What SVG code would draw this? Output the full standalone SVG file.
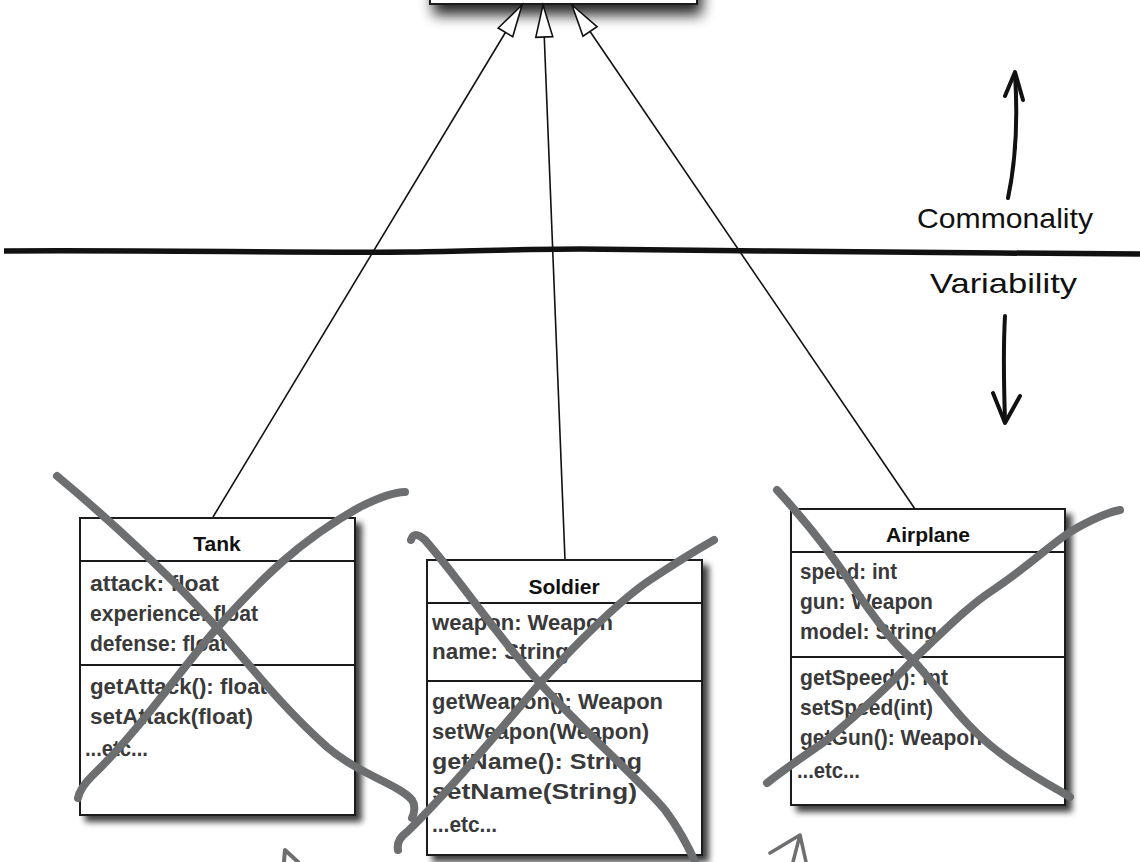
<svg xmlns="http://www.w3.org/2000/svg" width="1140" height="862" viewBox="0 0 1140 862">
<style>
.box{fill:#fff;stroke:#1a1a1a;stroke-width:2}
.sep{stroke:#1a1a1a;stroke-width:2}
.t{font-family:"Liberation Sans",Arial,sans-serif;font-weight:bold;font-size:21px;fill:#111;text-anchor:middle}
.m{font-family:"Liberation Sans",Arial,sans-serif;font-weight:bold;font-size:22px;fill:#3a3a3a}
.h{font-family:"Liberation Sans",Arial,sans-serif;font-size:28px;fill:#111}
.x{fill:none;stroke:#6d6e70;stroke-width:8;stroke-linecap:round;stroke-linejoin:round}
.c{fill:none;stroke:#111;stroke-width:1.6}
.ink{fill:none;stroke:#111;stroke-width:4;stroke-linecap:round;stroke-linejoin:round}
</style>
<defs>
<filter id="sh" x="-10%" y="-10%" width="130%" height="130%">
<feGaussianBlur in="SourceAlpha" stdDeviation="3"/>
<feOffset dx="6" dy="6"/>
<feComponentTransfer><feFuncA type="linear" slope="0.75"/></feComponentTransfer>
<feMerge><feMergeNode/><feMergeNode in="SourceGraphic"/></feMerge>
</filter>
<filter id="shTop" x="-20%" y="-50%" width="140%" height="250%">
<feGaussianBlur in="SourceAlpha" stdDeviation="7"/>
<feOffset dx="4" dy="10"/>
<feComponentTransfer><feFuncA type="linear" slope="0.85"/></feComponentTransfer>
<feMerge><feMergeNode/><feMergeNode in="SourceGraphic"/></feMerge>
</filter>
<marker id="tri" markerUnits="userSpaceOnUse" markerWidth="40" markerHeight="24" viewBox="-36 -12 40 24" refX="0" refY="0" orient="auto">
<path d="M0,0 L-32,-8.5 L-32,8.5 Z" fill="#fff" stroke="#111" stroke-width="1.6" stroke-linejoin="miter"/>
</marker>
</defs>
<rect width="1140" height="862" fill="#fff"/>

<g id="node-base">
<rect class="box" x="430" y="-30" width="267" height="34" filter="url(#shTop)"/>
</g>

<g id="divider">
<path d="M4,251 C150,250 300,253 410,252 C480,251 520,249 580,249 C700,250 900,253 1000,253 C1060,253 1100,254 1140,254" fill="none" stroke="#111" stroke-width="5.5"/>
</g>

<g id="connectors">
<line class="c" x1="213" y1="517" x2="522" y2="5" marker-end="url(#tri)"/>
<line class="c" x1="565" y1="560" x2="543" y2="5" marker-end="url(#tri)"/>
<line class="c" x1="915" y1="509" x2="572" y2="5" marker-end="url(#tri)"/>
</g>

<g id="node-tank">
<rect class="box" x="80" y="518" width="275" height="297" filter="url(#sh)"/>
<line class="sep" x1="80" y1="561" x2="355" y2="561"/>
<line class="sep" x1="80" y1="665" x2="355" y2="665"/>
<text class="t" x="217" y="551">Tank</text>
<text class="m" x="90" y="591" textLength="129" lengthAdjust="spacingAndGlyphs">attack: float</text>
<text class="m" x="90" y="621" textLength="168" lengthAdjust="spacingAndGlyphs">experience: float</text>
<text class="m" x="90" y="651" textLength="137" lengthAdjust="spacingAndGlyphs">defense: float</text>
<text class="m" x="90" y="694" textLength="177" lengthAdjust="spacingAndGlyphs">getAttack(): float</text>
<text class="m" x="90" y="724" textLength="163" lengthAdjust="spacingAndGlyphs">setAttack(float)</text>
<text class="m" x="85" y="756" textLength="63" lengthAdjust="spacingAndGlyphs">...etc...</text>
<path class="x" d="M57,476 C110,520 180,585 217,628 C250,665 280,705 327,747 C360,775 400,785 412,800 C416,806 414,814 412,818"/>
<path class="x" d="M78,798 Q80,788 92,776 C140,730 180,670 217,628 C260,580 300,540 360,507 C380,497 395,492 405,492"/>
</g>

<g id="node-soldier">
<rect class="box" x="427" y="560" width="275" height="295" filter="url(#sh)"/>
<line class="sep" x1="427" y1="603" x2="702" y2="603"/>
<line class="sep" x1="427" y1="681" x2="702" y2="681"/>
<text class="t" x="564" y="594">Soldier</text>
<text class="m" x="432" y="630" textLength="181" lengthAdjust="spacingAndGlyphs">weapon: Weapon</text>
<text class="m" x="432" y="659" textLength="137" lengthAdjust="spacingAndGlyphs">name: String</text>
<text class="m" x="432" y="709" textLength="231" lengthAdjust="spacingAndGlyphs">getWeapon(): Weapon</text>
<text class="m" x="432" y="739" textLength="217" lengthAdjust="spacingAndGlyphs">setWeapon(Weapon)</text>
<text class="m" x="432" y="769" textLength="210" lengthAdjust="spacingAndGlyphs">getName(): String</text>
<text class="m" x="432" y="799" textLength="205" lengthAdjust="spacingAndGlyphs">setName(String)</text>
<text class="m" x="432" y="832" textLength="65" lengthAdjust="spacingAndGlyphs">...etc...</text>
<path class="x" d="M411,540 Q414,530 425,540 C460,580 500,640 540,683 C580,728 640,780 665,810 C680,830 690,850 697,866"/>
<path class="x" d="M398,850 Q396,840 407,832 C450,790 500,730 540,683 C580,640 620,600 650,580 C680,560 700,548 714,540"/>
</g>

<g id="node-airplane">
<rect class="box" x="791" y="509" width="274" height="296" filter="url(#sh)"/>
<line class="sep" x1="791" y1="552" x2="1065" y2="552"/>
<line class="sep" x1="791" y1="657" x2="1065" y2="657"/>
<text class="t" x="928" y="542">Airplane</text>
<text class="m" x="800" y="579" textLength="97" lengthAdjust="spacingAndGlyphs">speed: int</text>
<text class="m" x="800" y="609" textLength="133" lengthAdjust="spacingAndGlyphs">gun: Weapon</text>
<text class="m" x="800" y="639" textLength="137" lengthAdjust="spacingAndGlyphs">model: String</text>
<text class="m" x="800" y="685" textLength="148" lengthAdjust="spacingAndGlyphs">getSpeed(): int</text>
<text class="m" x="800" y="715" textLength="133" lengthAdjust="spacingAndGlyphs">setSpeed(int)</text>
<text class="m" x="800" y="745" textLength="182" lengthAdjust="spacingAndGlyphs">getGun(): Weapon</text>
<text class="m" x="797" y="778" textLength="63" lengthAdjust="spacingAndGlyphs">...etc...</text>
<path class="x" d="M777,490 C800,515 830,550 860,597 C880,625 895,645 913,660 C940,690 960,720 990,745 C1020,770 1050,785 1070,797"/>
<path class="x" d="M767,783 C790,765 810,752 827,740 C860,712 890,685 913,660 C950,625 970,605 993,590 C1030,565 1050,545 1070,532 C1090,520 1105,513 1120,510"/>
</g>

<g id="annotations">
<path class="ink" d="M1008,198 C1016,160 1018,120 1015,74"/>
<path class="ink" d="M1005,96 L1015,72 L1023,100"/>
<text class="h" x="917" y="228" textLength="176" lengthAdjust="spacingAndGlyphs">Commonality</text>
<text class="h" x="930" y="293" textLength="147" lengthAdjust="spacingAndGlyphs">Variability</text>
<path class="ink" d="M1005,316 C1003,350 1004,390 1005,421"/>
<path class="ink" d="M993,393 L1005,423 L1020,396"/>
<path d="M284,862 L285,850 L298,862" fill="none" stroke="#6d6e70" stroke-width="4" stroke-linecap="round" stroke-linejoin="round"/>
<path d="M770,853 L800,835 L793,862 M800,835 L806,862" fill="none" stroke="#6d6e70" stroke-width="3.5" stroke-linecap="round" stroke-linejoin="round"/>
</g>
</svg>
